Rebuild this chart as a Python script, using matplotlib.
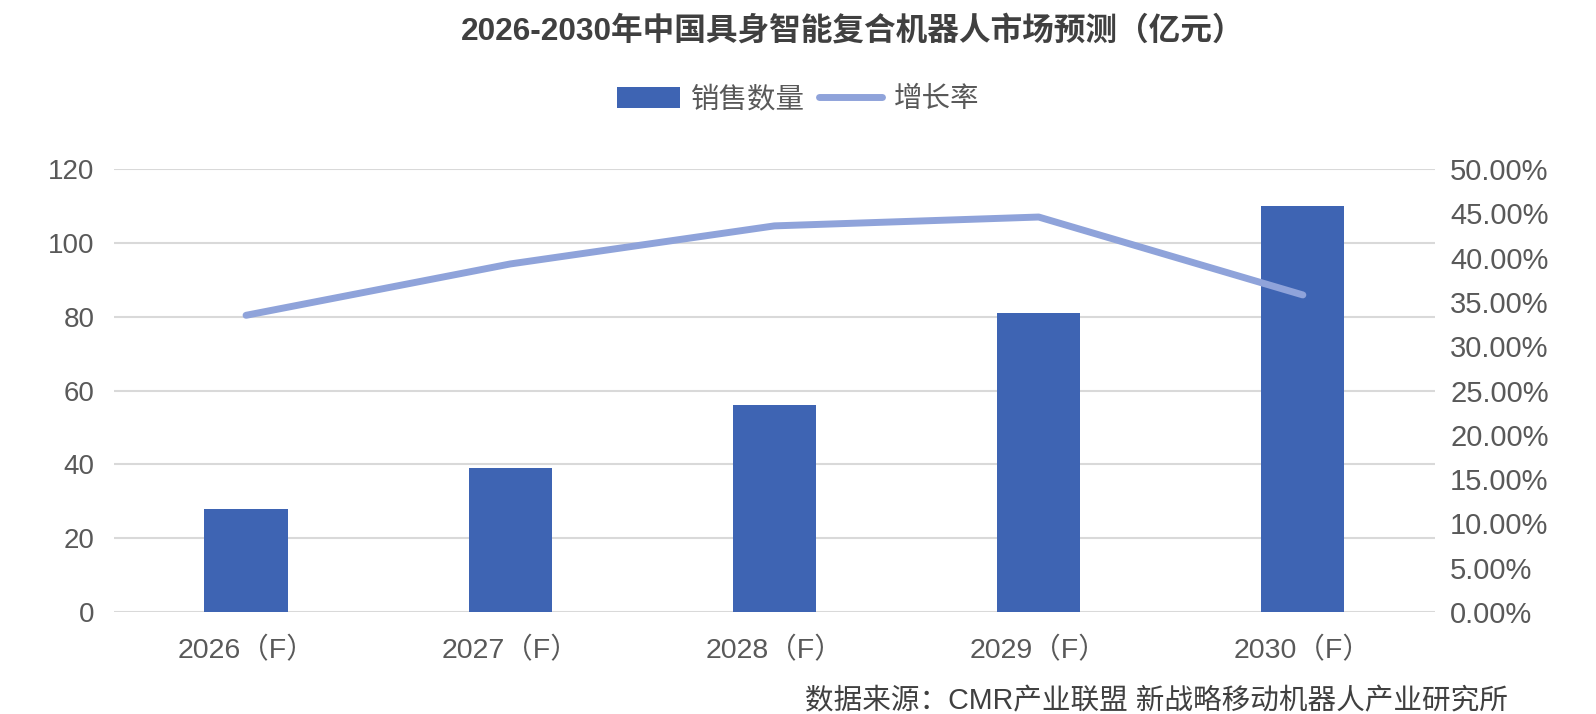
import matplotlib.pyplot as plt
import numpy as np
from matplotlib.ticker import FuncFormatter

plt.rcParams['font.family'] = ['Liberation Sans', 'Noto Sans CJK SC']

# Data
years = ['2026（F）', '2027（F）', '2028（F）', '2029（F）', '2030（F）']
sales = [28, 39, 56, 81, 110]
growth = [0.335, 0.393, 0.436, 0.446, 0.358]

bar_color = '#3E64B3'
line_color = '#8FA3DA'
text_color = '#595959'
grid_color = '#D9D9D9'

fig = plt.figure(figsize=(15.96, 7.14), dpi=100)
ax = fig.add_axes([0.0714, 0.143, 0.8277, 0.620])
ax2 = ax.twinx()

x = np.arange(len(years))
bars = ax.bar(x, sales, width=0.315, color=bar_color, label='销售数量', zorder=3)
line, = ax2.plot(x, growth, color=line_color, lw=5, solid_capstyle='round',
                 label='增长率', zorder=4)

ax.set_xlim(-0.5, len(years) - 0.5)
ax.set_ylim(0, 120)
ax.set_yticks(np.arange(0, 121, 20))
ax2.set_ylim(0, 0.5)
ax2.set_yticks(np.arange(0, 0.501, 0.05))
ax2.yaxis.set_major_formatter(FuncFormatter(lambda v, p: f'{v * 100:.2f}%'))

ax.set_xticks(x)
ax.set_xticklabels(years)
ax.grid(axis='y', color=grid_color, lw=1.5, zorder=0)
ax.set_axisbelow(True)

for a in (ax, ax2):
    for s in a.spines.values():
        s.set_visible(False)
    a.tick_params(length=0, colors=text_color)
ax.tick_params(axis='x', pad=18, labelsize=20.5)
ax.tick_params(axis='y', pad=14, labelsize=20)
ax2.tick_params(axis='y', pad=11, labelsize=21)
ax2.patch.set_visible(False)

fig.text(0.534, 0.957, '2026-2030年中国具身智能复合机器人市场预测（亿元）',
         ha='center', va='center', fontsize=22.8, fontweight='bold', color='#404040')

fig.legend(handles=[bars, line], loc='center', bbox_to_anchor=(0.50, 0.860),
           ncol=2, frameon=False, fontsize=20.5, handlelength=2.2, handleheight=0.8,
           columnspacing=0.5, handletextpad=0.4, labelcolor=text_color)

fig.text(0.945, 0.018, '数据来源：CMR产业联盟 新战略移动机器人产业研究所',
         ha='right', va='center', fontsize=20.6, color='#404040')

plt.savefig('out.png', dpi=100)
